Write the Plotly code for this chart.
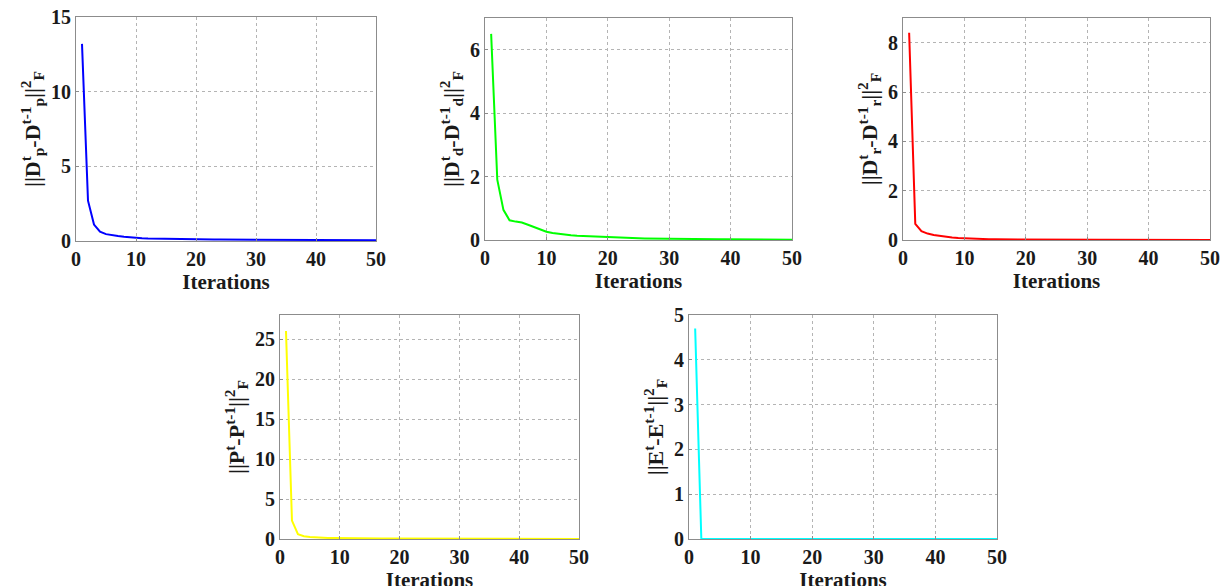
import plotly.graph_objects as go

iterations = list(range(1, 51))

dp_diff = [13.2, 2.7, 1.1, 0.62, 0.46, 0.38, 0.33, 0.28, 0.24, 0.21,
           0.19, 0.17, 0.16, 0.15, 0.14, 0.135, 0.13, 0.125, 0.12, 0.115,
           0.11, 0.107, 0.104, 0.101, 0.098, 0.095, 0.092, 0.09, 0.088, 0.086,
           0.084, 0.082, 0.08, 0.078, 0.076, 0.074, 0.072, 0.07, 0.068, 0.066,
           0.064, 0.062, 0.06, 0.058, 0.056, 0.055, 0.054, 0.053, 0.052, 0.05]
dd_diff = [6.5, 1.9, 0.95, 0.62, 0.58, 0.55, 0.48, 0.4, 0.32, 0.26,
           0.22, 0.19, 0.17, 0.15, 0.135, 0.125, 0.115, 0.105, 0.095, 0.085,
           0.078, 0.072, 0.066, 0.06, 0.055, 0.05, 0.046, 0.043, 0.04, 0.037,
           0.035, 0.033, 0.031, 0.029, 0.027, 0.025, 0.024, 0.023, 0.022, 0.021,
           0.02, 0.019, 0.018, 0.017, 0.016, 0.015, 0.014, 0.013, 0.012, 0.011]
dr_diff = [8.4, 0.65, 0.36, 0.26, 0.2, 0.16, 0.13, 0.1, 0.08, 0.065,
           0.055, 0.045, 0.038, 0.032, 0.028, 0.025, 0.022, 0.02, 0.018, 0.017,
           0.016, 0.015, 0.014, 0.013, 0.012, 0.012, 0.011, 0.011, 0.01, 0.01,
           0.01, 0.009, 0.009, 0.009, 0.008, 0.008, 0.008, 0.008, 0.007, 0.007,
           0.007, 0.007, 0.006, 0.006, 0.006, 0.006, 0.006, 0.005, 0.005, 0.005]
p_diff = [26.0, 2.3, 0.6, 0.35, 0.26, 0.2, 0.17, 0.14, 0.12, 0.1,
          0.09, 0.08, 0.072, 0.065, 0.06, 0.055, 0.05, 0.047, 0.044, 0.041,
          0.039, 0.037, 0.035, 0.033, 0.031, 0.03, 0.029, 0.028, 0.027, 0.026,
          0.025, 0.024, 0.023, 0.022, 0.021, 0.02, 0.02, 0.019, 0.019, 0.018,
          0.018, 0.017, 0.017, 0.016, 0.016, 0.015, 0.015, 0.014, 0.014, 0.013]
e_diff = [4.7, 0.0, 0.0, 0.0, 0.0, 0.0, 0.0, 0.0, 0.0, 0.0,
          0.0, 0.0, 0.0, 0.0, 0.0, 0.0, 0.0, 0.0, 0.0, 0.0,
          0.0, 0.0, 0.0, 0.0, 0.0, 0.0, 0.0, 0.0, 0.0, 0.0,
          0.0, 0.0, 0.0, 0.0, 0.0, 0.0, 0.0, 0.0, 0.0, 0.0,
          0.0, 0.0, 0.0, 0.0, 0.0, 0.0, 0.0, 0.0, 0.0, 0.0]

x_ticks = [0, 10, 20, 30, 40, 50]

panels = [
    dict(y=dp_diff, color="#0000ff", yrange=[0, 15], ydtick=5,
         title="||D<sup>t</sup><sub>p</sub>-D<sup>t-1</sup><sub>p</sub>||<sup>2</sup><sub>F</sub>",
         dom_x=(76, 376), dom_y=(17, 241)),
    dict(y=dd_diff, color="#00ff00", yrange=[0, 7], ydtick=2,
         title="||D<sup>t</sup><sub>d</sub>-D<sup>t-1</sup><sub>d</sub>||<sup>2</sup><sub>F</sub>",
         dom_x=(485, 792), dom_y=(18, 240)),
    dict(y=dr_diff, color="#ff0000", yrange=[0, 9], ydtick=2,
         title="||D<sup>t</sup><sub>r</sub>-D<sup>t-1</sup><sub>r</sub>||<sup>2</sup><sub>F</sub>",
         dom_x=(903, 1210), dom_y=(18, 240)),
    dict(y=p_diff, color="#ffff00", yrange=[0, 28], ydtick=5,
         title="||P<sup>t</sup>-P<sup>t-1</sup>||<sup>2</sup><sub>F</sub>",
         dom_x=(280, 579), dom_y=(315, 539)),
    dict(y=e_diff, color="#00ffff", yrange=[0, 5], ydtick=1,
         title="||E<sup>t</sup>-E<sup>t-1</sup>||<sup>2</sup><sub>F</sub>",
         dom_x=(689, 997), dom_y=(315, 539)),
]

W, H = 1228, 586
OFF = 8  # page body margin offset
FONT = "Liberation Serif, Times New Roman, serif"

fig = go.Figure()
layout = dict(
    width=W, height=H,
    margin=dict(l=0, r=0, t=0, b=0, autoexpand=False),
    paper_bgcolor="white", plot_bgcolor="white",
    showlegend=False,
    font=dict(family=FONT, color="#1a1a1a", size=20),
)

for i, p in enumerate(panels, start=1):
    xa = "x" if i == 1 else f"x{i}"
    ya = "y" if i == 1 else f"y{i}"
    fig.add_trace(go.Scatter(x=iterations, y=p["y"], mode="lines",
                             line=dict(color=p["color"], width=2),
                             xaxis=xa, yaxis=ya))
    common = dict(showline=True, linecolor="#8c8c8c", linewidth=1, mirror=True,
                  showgrid=True, gridcolor="#b4b4b4", griddash="dot", gridwidth=1,
                  zeroline=False, ticks="inside", ticklen=3, tickcolor="#8c8c8c",
                  ticklabeloverflow="allow",
                  tickfont=dict(family=FONT, size=20, weight="bold", color="#1a1a1a"))
    x0, x1 = p["dom_x"][0] - OFF, p["dom_x"][1] - OFF
    y0, y1 = p["dom_y"][0] - OFF, p["dom_y"][1] - OFF
    layout["xaxis" if i == 1 else f"xaxis{i}"] = dict(
        common,
        domain=[x0 / W, x1 / W],
        anchor=ya, range=[0, 50], tickvals=x_ticks,
        title=dict(text="Iterations", standoff=0,
                   font=dict(family=FONT, size=21, weight="bold", color="#1a1a1a")),
    )
    layout["yaxis" if i == 1 else f"yaxis{i}"] = dict(
        common,
        domain=[1 - y1 / H, 1 - y0 / H],
        anchor=xa, range=p["yrange"], dtick=p["ydtick"], tick0=0,
        title=dict(text=p["title"], standoff=4,
                   font=dict(family=FONT, size=22, weight="bold", color="#1a1a1a")),
    )

fig.update_layout(**layout)
fig.write_html("out.html")
